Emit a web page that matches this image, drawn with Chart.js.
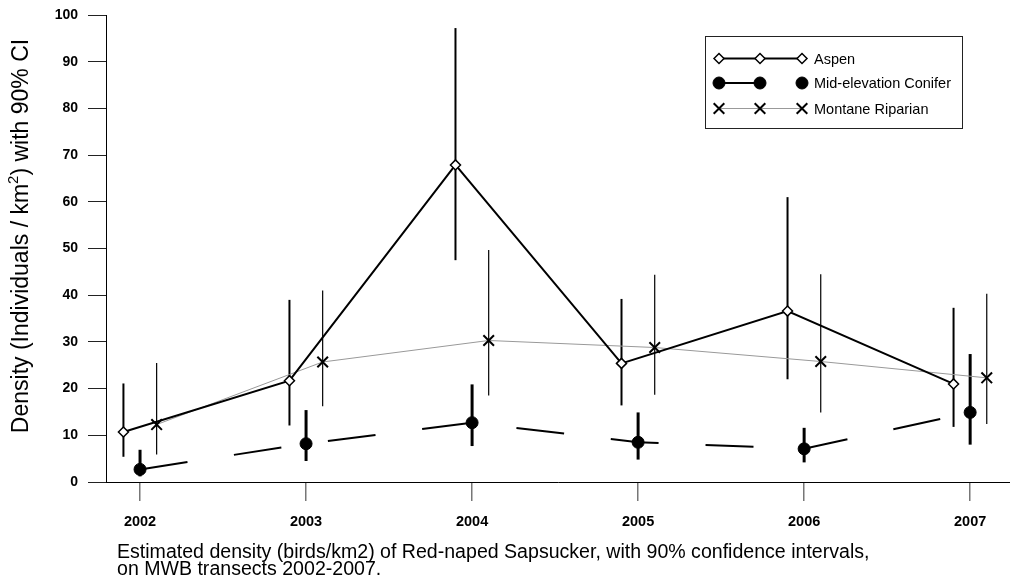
<!DOCTYPE html>
<html>
<head>
<meta charset="utf-8">
<script src="https://cdn.jsdelivr.net/npm/chart.js@4"></script>
<style>
html,body{margin:0;padding:0;background:#fff;}
#c{display:block;}
</style>
</head>
<body>
<canvas id="c" width="1010" height="588"></canvas>
<script>
// ---- data ----
const years = [2002, 2003, 2004, 2005, 2006, 2007];
const aspen   = [10.7, 21.7, 67.9, 25.4, 36.6, 21.0];
const aspenLo = [5.4, 12.1, 47.5, 16.4, 22.0, 11.8];
const aspenHi = [21.1, 39.0, 97.2, 39.2, 61.0, 37.3];
const conifer   = [2.7, 8.2, 12.7, 8.5, 7.1, 14.9];
const coniferLo = [1.2, 4.5, 7.7, 4.8, 4.2, 8.0];
const coniferHi = [6.9, 15.4, 20.9, 14.9, 11.6, 27.4];
const riparian   = [12.3, 25.7, 30.3, 28.8, 25.8, 22.3];
const riparianLo = [5.9, 16.2, 18.5, 18.7, 14.9, 12.4];
const riparianHi = [25.5, 41.0, 49.7, 44.4, 44.5, 40.3];
const yTicks = [0, 10, 20, 30, 40, 50, 60, 70, 80, 90, 100];
const seriesNames = ["Aspen", "Mid-elevation Conifer", "Montane Riparian"];
const yTitle = ["Density (Individuals / km", "2", ") with 90% CI"];
const caption = ["Estimated density (birds/km2) of Red-naped Sapsucker, with 90% confidence intervals,",
                 "on MWB transects 2002-2007."];

const FONT = "'Liberation Sans', Arial, sans-serif";
const offsets = [-0.1, 0, 0.1];

function pts(vals, off) { return vals.map((v, i) => ({x: years[i] + off, y: v})); }

const errBars = [
  {lo: aspenLo, hi: aspenHi, off: offsets[0], w: 2, color: '#000'},
  {lo: coniferLo, hi: coniferHi, off: offsets[1], w: 3, color: '#000'},
  {lo: riparianLo, hi: riparianHi, off: offsets[2], w: 1.2, color: '#000'}
];

const errorBarPlugin = {
  id: 'errbars',
  beforeDatasetsDraw(chart) {
    const ctx = chart.ctx, xs = chart.scales.x, ys = chart.scales.y;
    ctx.save();
    errBars.forEach(b => {
      ctx.strokeStyle = b.color; ctx.lineWidth = b.w; ctx.lineCap = 'butt';
      years.forEach((yr, i) => {
        const px = xs.getPixelForValue(yr + b.off);
        ctx.beginPath();
        ctx.moveTo(px, ys.getPixelForValue(b.lo[i]));
        ctx.lineTo(px, ys.getPixelForValue(b.hi[i]));
        ctx.stroke();
      });
    });
    ctx.restore();
  }
};

const decorPlugin = {
  id: 'decor',
  afterDraw(chart) {
    const ctx = chart.ctx;
    ctx.save();
    // y axis title (rotated) with superscript
    const fs = 23;
    ctx.translate(22, 236);
    ctx.rotate(-Math.PI / 2);
    ctx.fillStyle = '#000';
    ctx.textBaseline = 'middle';
    ctx.font = fs + 'px ' + FONT;
    const w0 = ctx.measureText(yTitle[0]).width;
    const w2 = ctx.measureText(yTitle[2]).width;
    ctx.font = (fs * 0.65) + 'px ' + FONT;
    const w1 = ctx.measureText(yTitle[1]).width;
    let x = -(w0 + w1 + w2) / 2;
    ctx.font = fs + 'px ' + FONT;
    ctx.textAlign = 'left';
    ctx.fillText(yTitle[0], x, 0); x += w0;
    ctx.font = (fs * 0.65) + 'px ' + FONT;
    ctx.fillText(yTitle[1], x, -8); x += w1;
    ctx.font = fs + 'px ' + FONT;
    ctx.fillText(yTitle[2], x, 0);
    ctx.restore();

    // caption
    ctx.save();
    ctx.fillStyle = '#000';
    ctx.textAlign = 'left';
    ctx.textBaseline = 'middle';
    ctx.font = '16px ' + FONT;
    const m = ctx.measureText(caption[0]).width;
    const cfs = 16 * 753 / m;
    ctx.font = cfs + 'px ' + FONT;
    ctx.fillText(caption[0], 117, 553);
    ctx.fillText(caption[1], 117, 570);
    ctx.restore();

    // legend
    ctx.save();
    ctx.strokeStyle = '#222';
    ctx.lineWidth = 1;
    ctx.strokeRect(705.5, 36.5, 257, 92);
    const rows = [58.5, 83, 108.5];
    const mx = [719, 760, 802];
    const dsets = chart.data.datasets;
    rows.forEach((ry, k) => {
      const ds = dsets[k];
      ctx.beginPath();
      ctx.strokeStyle = ds.borderColor;
      ctx.lineWidth = ds.borderWidth;
      ctx.moveTo(mx[0], ry);
      ctx.lineTo(k === 1 ? mx[1] : mx[2], ry);
      ctx.stroke();
      mx.forEach(xx => {
        ctx.strokeStyle = ds.pointBorderColor;
        ctx.fillStyle = ds.pointBackgroundColor;
        ctx.lineWidth = ds.pointBorderWidth;
        Chart.helpers.drawPoint(ctx, {pointStyle: ds.pointStyle, radius: ds.pointRadius, borderWidth: ds.pointBorderWidth, rotation: 0}, xx, ry);
      });
      ctx.fillStyle = '#000';
      ctx.font = '14.5px ' + FONT;
      ctx.textAlign = 'left';
      ctx.textBaseline = 'middle';
      ctx.fillText(seriesNames[k], 814, ry + 1);
    });
    ctx.restore();
  }
};

new Chart(document.getElementById('c'), {
  type: 'line',
  data: {
    datasets: [
      {
        label: seriesNames[0], data: pts(aspen, offsets[0]),
        borderColor: '#000', borderWidth: 2,
        pointStyle: 'rectRot', pointRadius: 5, pointBorderWidth: 1.5,
        pointBackgroundColor: '#fff', pointBorderColor: '#000'
      },
      {
        label: seriesNames[1], data: pts(conifer, offsets[1]),
        borderColor: '#000', borderWidth: 2, borderDash: [48, 47],
        pointStyle: 'circle', pointRadius: 6, pointBorderWidth: 1,
        pointBackgroundColor: '#000', pointBorderColor: '#000'
      },
      {
        label: seriesNames[2], data: pts(riparian, offsets[2]),
        borderColor: '#999', borderWidth: 1,
        pointStyle: 'crossRot', pointRadius: 7.5, pointBorderWidth: 2,
        pointBackgroundColor: '#000', pointBorderColor: '#000'
      }
    ]
  },
  options: {
    responsive: false,
    animation: false,
    events: [],
    layout: {autoPadding: false, padding: {top: 15, right: 0, left: 0, bottom: 0}},
    plugins: {legend: {display: false}, tooltip: {enabled: false}},
    elements: {line: {tension: 0}},
    scales: {
      x: {
        type: 'linear', min: 2001.795, max: 2007.24,
        afterBuildTicks(scale) { scale.ticks = years.map(v => ({value: v})); },
        afterFit(scale) { scale.height = 106; scale.paddingLeft = 0; scale.paddingRight = 0; },
        ticks: {
          callback: v => String(v), color: '#000', padding: 12,
          font: {family: FONT, size: 14.5, weight: 'bold'}, maxRotation: 0, autoSkip: false
        },
        grid: {drawOnChartArea: false, drawTicks: true, tickLength: 19, color: '#777', lineWidth: 1.5},
        border: {display: true, color: '#000', width: 1}
      },
      y: {
        min: 0, max: 100,
        afterBuildTicks(scale) { scale.ticks = yTicks.map(v => ({value: v})); },
        afterFit(scale) { scale.width = 106; scale.paddingTop = 0; scale.paddingBottom = 0; },
        ticks: {
          color: '#000', padding: 10,
          font: {family: FONT, size: 14, weight: 'bold'}
        },
        grid: {drawOnChartArea: false, drawTicks: true, tickLength: 18, color: '#222', lineWidth: 1},
        border: {display: true, color: '#000', width: 1}
      }
    }
  },
  plugins: [errorBarPlugin, decorPlugin]
});
</script>
</body>
</html>
